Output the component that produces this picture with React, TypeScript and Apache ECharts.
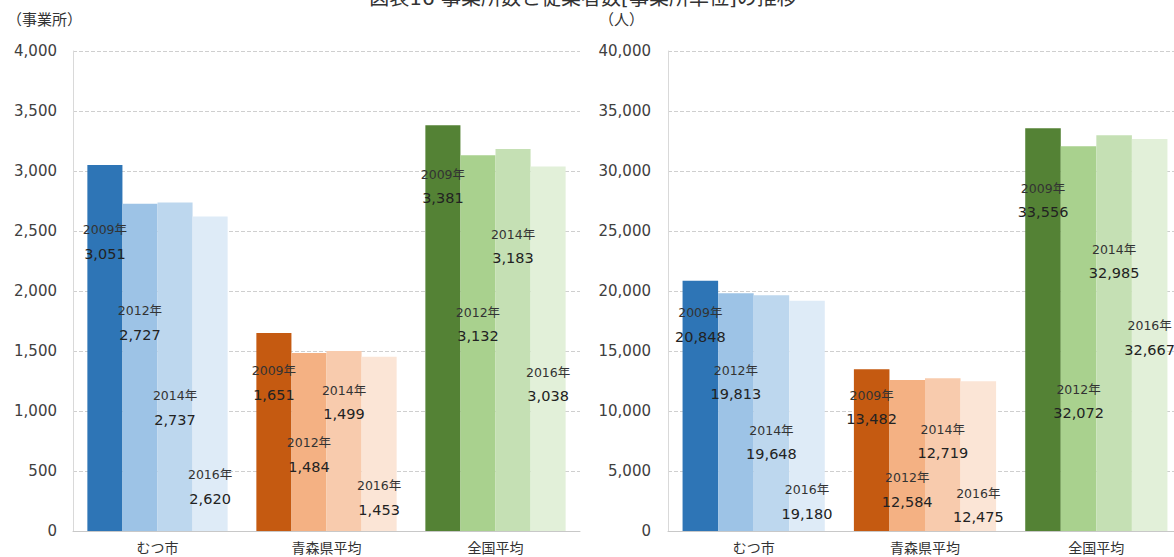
import React, { useEffect, useRef } from "react";
import * as echarts from "echarts";

const categories = ["むつ市", "青森県平均", "全国平均"];
const years = ["2009年", "2012年", "2014年", "2016年"];

// 事業所数 per year (rows = years, cols = categories)
const establishments2009 = [3051, 1651, 3381];
const establishments2012 = [2727, 1484, 3132];
const establishments2014 = [2737, 1499, 3183];
const establishments2016 = [2620, 1453, 3038];

// 従業者数 per year
const employees2009 = [20848, 13482, 33556];
const employees2012 = [19813, 12584, 32072];
const employees2014 = [19648, 12719, 32985];
const employees2016 = [19180, 12475, 32667];

const leftTicks = { min: 0, max: 4000, interval: 500 };
const rightTicks = { min: 0, max: 40000, interval: 5000 };

const titleText = "図表16 事業所数と従業者数[事業所単位]の推移";

// styling: colours per category & year
const palette = [
  ["#2E75B6", "#9DC3E6", "#BDD7EE", "#DEEBF7"],
  ["#C55A11", "#F4B183", "#F8CBAD", "#FBE5D6"],
  ["#548235", "#A9D18E", "#C5E0B4", "#E2F0D9"],
];

// styling: label vertical position below bar top (px), [category][year]
const leftLabelPos = [
  [77, 119, 205, 270],
  [50, 102, 51, 141],
  [61, 169, 97, 218],
];
const rightLabelPos = [
  [44, 89, 147, 201],
  [38, 110, 63, 124],
  [72, 255, 126, 199],
];

const FONT = "'DejaVu Sans', 'Noto Sans CJK JP', sans-serif";

function buildSeries(
  valuesByYear: number[][],
  labelPos: number[][],
  axisIndex: number
) {
  return valuesByYear.map((vals, yi) => ({
    type: "bar",
    name: years[yi],
    xAxisIndex: axisIndex,
    yAxisIndex: axisIndex,
    barGap: "0%",
    barCategoryGap: "17%",
    data: vals.map((v, ci) => ({
      value: v,
      itemStyle: { color: palette[ci][yi] },
      label: {
        show: true,
        position: ["50%", labelPos[ci][yi]],
        align: "center",
        verticalAlign: "middle",
        formatter: `{y|${years[yi]}}\n{v|${v.toLocaleString("en-US")}}`,
        rich: {
          y: { fontSize: 12.5, lineHeight: 24, color: "#333", fontFamily: FONT },
          v: { fontSize: 14.5, lineHeight: 24, color: "#222", fontFamily: FONT },
        },
      },
    })),
  }));
}

export default function App() {
  const ref = useRef<HTMLDivElement>(null);
  useEffect(() => {
    if (!ref.current) return;
    const chart = echarts.init(ref.current, undefined, { renderer: "svg" });
    const yAxisCommon = {
      type: "value",
      axisLine: { show: true, lineStyle: { color: "#d9d9d9" } },
      axisTick: { show: false },
      splitLine: { lineStyle: { type: "dashed", color: "#cfcfcf" } },
      axisLabel: {
        fontSize: 15,
        color: "#404040",
        fontFamily: FONT,
        formatter: (v: number) => v.toLocaleString("en-US"),
      },
    };
    const xAxisCommon = {
      type: "category",
      data: categories,
      axisLine: { show: true, lineStyle: { color: "#c8c8c8" } },
      axisTick: { show: false },
      axisLabel: { fontSize: 14, color: "#333", margin: 10, fontFamily: FONT },
    };
    chart.setOption({
      animation: false,
      backgroundColor: "#fff",
      grid: [
        { left: 73, top: 51, width: 507, height: 480 },
        { left: 668, top: 51, width: 514, height: 480 },
      ],
      xAxis: [
        { ...xAxisCommon, gridIndex: 0 },
        { ...xAxisCommon, gridIndex: 1 },
      ],
      yAxis: [
        {
          ...yAxisCommon,
          gridIndex: 0,
          ...leftTicks,
          axisLabel: { ...yAxisCommon.axisLabel, margin: 16 },
        },
        {
          ...yAxisCommon,
          gridIndex: 1,
          ...rightTicks,
          axisLabel: { ...yAxisCommon.axisLabel, margin: 17 },
        },
      ],
      graphic: [
        {
          type: "text",
          x: 583,
          y: -2,
          style: {
            text: titleText,
            fontSize: 20,
            fill: "#333",
            fontFamily: FONT,
            align: "center",
            verticalAlign: "middle",
          },
        },
        {
          type: "text",
          x: 7,
          y: 20,
          style: {
            text: "（事業所）",
            fontSize: 15,
            fill: "#333",
            fontFamily: FONT,
            align: "left",
            verticalAlign: "middle",
          },
        },
        {
          type: "text",
          x: 599,
          y: 20,
          style: {
            text: "（人）",
            fontSize: 15,
            fill: "#333",
            fontFamily: FONT,
            align: "left",
            verticalAlign: "middle",
          },
        },
      ],
      series: [
        ...buildSeries(
          [establishments2009, establishments2012, establishments2014, establishments2016],
          leftLabelPos,
          0
        ),
        ...buildSeries(
          [employees2009, employees2012, employees2014, employees2016],
          rightLabelPos,
          1
        ),
      ],
    });
    return () => chart.dispose();
  }, []);
  return (
    <div
      style={{
        position: "fixed",
        left: 0,
        top: 0,
        width: 1174,
        height: 557,
        overflow: "hidden",
        background: "#fff",
      }}
    >
      <div ref={ref} style={{ width: 1200, height: 557 }} />
    </div>
  );
}
